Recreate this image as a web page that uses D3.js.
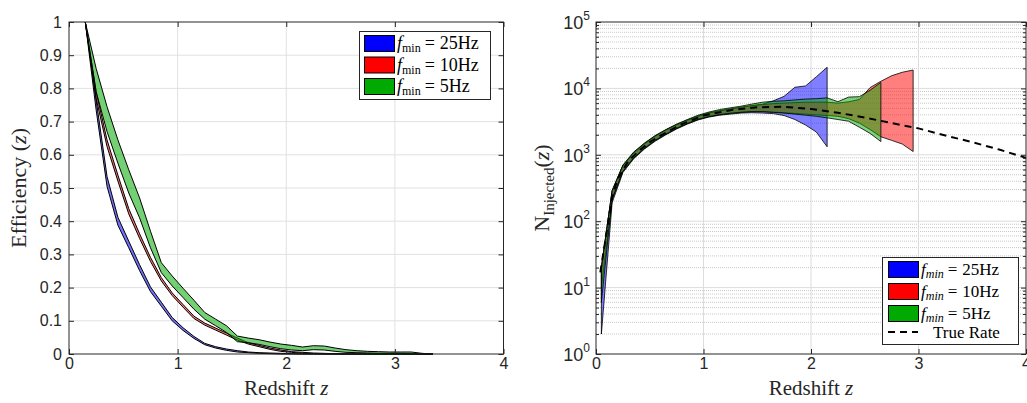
<!DOCTYPE html>
<html><head><meta charset="utf-8">
<script src="https://cdn.jsdelivr.net/npm/d3@7/dist/d3.min.js"></script>
<style>body{margin:0;background:#fff}svg{display:block}</style>
</head><body>
<script>
// ---------- DATA ----------
const xTicks = [0,1,2,3,4];
const effTicks = [0,0.1,0.2,0.3,0.4,0.5,0.6,0.7,0.8,0.9,1];
const effTickLabels = ["0","0.1","0.2","0.3","0.4","0.5","0.6","0.7","0.8","0.9","1"];
const logExps = [0,1,2,3,4,5];
const seriesNames = ["25Hz","10Hz","5Hz"];

// left panel: efficiency vs redshift
const zL = [0.15,0.25,0.35,0.45,0.55,0.65,0.75,0.85,0.95,1.05,1.15,1.25,1.35,1.45,1.55,1.65,1.75,1.85,1.95,2.05,2.15,2.25,2.35,2.45,2.55,2.65,2.75,2.85,2.95,3.05,3.15,3.25,3.35];
const effBlueLo = [1.0,0.735,0.505,0.388,0.32,0.251,0.188,0.144,0.100,0.071,0.047,0.028,0.018,0.011,0.006,0.004,0.002,0.001,0,0,0,0,0,0,0,0,0,0,0,0,0,0,0];
const effBlueHi = [1.0,0.765,0.535,0.412,0.34,0.269,0.202,0.156,0.110,0.079,0.053,0.032,0.022,0.015,0.010,0.006,0.004,0.003,0.002,0.001,0,0,0,0,0,0,0,0,0,0,0,0,0];
const effRedLo  = [1.0,0.77,0.625,0.521,0.422,0.348,0.279,0.220,0.176,0.141,0.107,0.087,0.072,0.057,0.042,0.030,0.022,0.014,0.008,0.005,0.002,0.001,0,0,0,0,0,0,0,0,0,0,0];
const effRedHi  = [1.0,0.79,0.645,0.539,0.438,0.362,0.291,0.230,0.184,0.149,0.114,0.093,0.078,0.063,0.048,0.034,0.026,0.018,0.012,0.007,0.005,0.003,0.002,0.001,0,0,0,0,0,0,0,0,0];
const effGreenLo = [1.0,0.79,0.67,0.575,0.485,0.41,0.32,0.245,0.205,0.17,0.135,0.105,0.085,0.065,0.037,0.034,0.029,0.022,0.016,0.012,0.010,0.013,0.012,0.008,0.005,0.004,0.003,0.002,0.002,0.002,0.001,0,0];
const effGreenHi = [1.0,0.86,0.745,0.645,0.555,0.47,0.37,0.275,0.235,0.198,0.162,0.125,0.105,0.085,0.054,0.048,0.043,0.036,0.030,0.026,0.021,0.025,0.024,0.018,0.013,0.010,0.008,0.007,0.006,0.006,0.006,0.002,0];

// right panel: injected number vs redshift
const zR = [0.05,0.15,0.25,0.35,0.45,0.55,0.65,0.75,0.85,0.95,1.05,1.15,1.25,1.35,1.45,1.55,1.65,1.75,1.85,1.95,2.05,2.15,2.25,2.35,2.45,2.55,2.65,2.75,2.85,2.95];
const nBlueLo = [2,190,540,870,1220,1600,2000,2450,2900,3350,3700,3950,4100,4250,4300,4250,4170,3900,3400,2800,2200,1320];
const nBlueHi = [20,290,690,1080,1480,1920,2380,2850,3350,3850,4250,4600,4900,5200,5500,5800,6500,7600,10400,10900,15000,20800];
const nRedLo = [10,210,570,900,1260,1660,2070,2520,2980,3450,3800,4050,4250,4400,4500,4500,4400,4300,4200,4100,4000,3900,3800,3500,3000,2400,1870,1650,1450,1120];
const nRedHi = [20,280,680,1060,1450,1900,2350,2820,3300,3800,4250,4600,4900,5200,5500,5700,5900,6000,6100,6200,6200,6200,6000,6300,6800,10300,12800,15500,17500,18900];
const nGreenLo = [6,220,560,890,1240,1640,2040,2490,2950,3400,3750,4000,4200,4350,4450,4450,4350,4250,4100,3950,3800,3600,3400,3200,2600,2100,1580];
const nGreenHi = [20,290,700,1100,1500,1950,2400,2900,3400,3950,4400,4800,5100,5400,5800,6200,6400,6500,6700,6900,7000,7200,6300,7400,7500,9400,12300];
const zTrue = [0.04,0.1,0.15,0.2,0.3,0.4,0.5,0.6,0.8,1.0,1.25,1.5,1.75,2.0,2.25,2.5,2.75,3.0,3.25,3.5,3.75,4.0];
const nTrue = [17,70,230,430,800,1150,1550,1950,2900,3900,4700,5200,5300,4900,4300,3650,3000,2500,1950,1550,1200,900];

// ---------- STYLE ----------
const colors = ["#0000ff","#ff0000","#00aa00"];
const frameColor = "#262626";
const sans = "'Liberation Sans', Arial, sans-serif";
const serif = "'Liberation Serif', 'Times New Roman', serif";

const W = 1027, H = 403;
const svg = d3.select("body").append("svg").attr("width", W).attr("height", H);

// ---------- LEFT PANEL ----------
const L = {x0:69, x1:503.5, y0:354, y1:22};
const xL = d3.scaleLinear().domain([0,4]).range([L.x0, L.x1]);
const yL = d3.scaleLinear().domain([0,1]).range([L.y0, L.y1]);
const gL = svg.append("g");

gL.append("g").selectAll("line").data(xTicks.slice(1,-1)).join("line")
  .attr("x1", d=>xL(d)).attr("x2", d=>xL(d)).attr("y1", L.y1).attr("y2", L.y0)
  .attr("stroke","#e1e1e1").attr("stroke-width",1);
gL.append("g").selectAll("line").data(effTicks.slice(1,-1)).join("line")
  .attr("y1", d=>yL(d)).attr("y2", d=>yL(d)).attr("x1", L.x0).attr("x2", L.x1)
  .attr("stroke","#e1e1e1").attr("stroke-width",1);

const effSets = [[effBlueLo,effBlueHi],[effRedLo,effRedHi],[effGreenLo,effGreenHi]];
const areaL = d3.area().x(d=>xL(d.z)).y0(d=>yL(d.lo)).y1(d=>yL(d.hi));
effSets.forEach((s,i)=>{
  const data = zL.map((z,k)=>({z, lo:s[0][k], hi:s[1][k]}));
  gL.append("path").attr("d", areaL(data))
    .attr("fill", colors[i]).attr("fill-opacity", 0.55)
    .attr("stroke","#000").attr("stroke-width",1).attr("stroke-linejoin","round");
});

function styleAxis(g){
  g.select(".domain").remove();
  g.selectAll(".tick line").attr("stroke", frameColor);
  g.selectAll(".tick text").attr("fill","#262626").attr("font-family", sans).attr("font-size", 16);
}
gL.append("g").attr("transform",`translate(0,${L.y0})`)
  .call(d3.axisBottom(xL).tickValues(xTicks).tickFormat(d3.format("d")).tickSizeInner(-5).tickSizeOuter(0).tickPadding(4))
  .call(styleAxis);
gL.append("g").attr("transform",`translate(0,${L.y1})`)
  .call(d3.axisTop(xL).tickValues(xTicks).tickFormat("").tickSizeInner(-5).tickSizeOuter(0))
  .call(styleAxis);
gL.append("g").attr("transform",`translate(${L.x0},0)`)
  .call(d3.axisLeft(yL).tickValues(effTicks).tickFormat((d,i)=>effTickLabels[i]).tickSizeInner(-5).tickSizeOuter(0).tickPadding(7))
  .call(styleAxis);
gL.append("g").attr("transform",`translate(${L.x1},0)`)
  .call(d3.axisRight(yL).tickValues(effTicks).tickFormat("").tickSizeInner(-5).tickSizeOuter(0))
  .call(styleAxis);
gL.append("rect").attr("x",L.x0).attr("y",L.y1).attr("width",L.x1-L.x0).attr("height",L.y0-L.y1)
  .attr("fill","none").attr("stroke",frameColor).attr("stroke-width",1);

const xlabL = gL.append("text").attr("x",(L.x0+L.x1)/2).attr("y",395).attr("text-anchor","middle")
  .attr("font-family",serif).attr("font-size",21).attr("fill","#262626");
xlabL.append("tspan").text("Redshift ");
xlabL.append("tspan").attr("font-style","italic").text("z");
const ylabL = gL.append("text").attr("transform",`translate(26,${(L.y0+L.y1)/2}) rotate(-90)`).attr("text-anchor","middle")
  .attr("font-family",serif).attr("font-size",22).attr("fill","#262626");
ylabL.append("tspan").text("Efficiency (");
ylabL.append("tspan").attr("font-style","italic").text("z");
ylabL.append("tspan").text(")");

const legL = gL.append("g");
legL.append("rect").attr("x",359.5).attr("y",31.5).attr("width",131).attr("height",68)
  .attr("fill","#fff").attr("stroke",frameColor).attr("stroke-width",1);
seriesNames.forEach((n,i)=>{
  const yy = 35 + i*21.5;
  legL.append("rect").attr("x",364.5).attr("y",yy+0.5).attr("width",30).attr("height",16)
    .attr("fill",colors[i]).attr("stroke","#000").attr("stroke-width",1);
  const t = legL.append("text").attr("x",397).attr("y",yy+14).attr("font-family",serif).attr("font-size",18).attr("fill","#000");
  t.append("tspan").attr("font-style","italic").text("f");
  t.append("tspan").attr("font-size",12).attr("dy",3).text("min");
  t.append("tspan").attr("dy",-3).attr("dx",4).text("=");
  t.append("tspan").attr("dx",5).text(n);
});

// ---------- RIGHT PANEL ----------
const R = {x0:596, x1:1026, y0:354, y1:22};
const xR = d3.scaleLinear().domain([0,4]).range([R.x0, R.x1]);
const yR = d3.scaleLog().domain([1,1e5]).range([R.y0, R.y1]);
const gR = svg.append("g");

const minorVals = [];
logExps.slice(0,-1).forEach(e=>{ for(let m=2;m<=9;m++) minorVals.push(m*Math.pow(10,e)); });
const majorVals = logExps.map(e=>Math.pow(10,e));

gR.append("g").selectAll("line").data(minorVals).join("line")
  .attr("y1", d=>yR(d)).attr("y2", d=>yR(d)).attr("x1", R.x0).attr("x2", R.x1)
  .attr("stroke","#c8c8c8").attr("stroke-width",1).attr("stroke-dasharray","1,1");
gR.append("g").selectAll("line").data(majorVals.slice(1,-1)).join("line")
  .attr("y1", d=>yR(d)).attr("y2", d=>yR(d)).attr("x1", R.x0).attr("x2", R.x1)
  .attr("stroke","#dcdcdc").attr("stroke-width",1);
gR.append("g").selectAll("line").data(xTicks.slice(1,-1)).join("line")
  .attr("x1", d=>xR(d)).attr("x2", d=>xR(d)).attr("y1", R.y1).attr("y2", R.y0)
  .attr("stroke","#dcdcdc").attr("stroke-width",1);

const nSets = [[nBlueLo,nBlueHi],[nRedLo,nRedHi],[nGreenLo,nGreenHi]];
const areaR = d3.area().x(d=>xR(d.z)).y0(d=>yR(d.lo)).y1(d=>yR(d.hi));
nSets.forEach((s,i)=>{
  const data = s[0].map((lo,k)=>({z:zR[k], lo, hi:s[1][k]}));
  gR.append("path").attr("d", areaR(data))
    .attr("fill", colors[i]).attr("fill-opacity", 0.5)
    .attr("stroke","#000").attr("stroke-width",0.8).attr("stroke-linejoin","round");
});
const lineR = d3.line().x(d=>xR(d.z)).y(d=>yR(d.n));
gR.append("path").attr("d", lineR(zTrue.map((z,k)=>({z, n:nTrue[k]}))))
  .attr("fill","none").attr("stroke","#000").attr("stroke-width",2).attr("stroke-dasharray","7,5");

gR.append("g").attr("transform",`translate(0,${R.y0})`)
  .call(d3.axisBottom(xR).tickValues(xTicks).tickFormat(d3.format("d")).tickSizeInner(-5).tickSizeOuter(0).tickPadding(4))
  .call(styleAxis);
gR.append("g").attr("transform",`translate(0,${R.y1})`)
  .call(d3.axisTop(xR).tickValues(xTicks).tickFormat("").tickSizeInner(-5).tickSizeOuter(0))
  .call(styleAxis);
gR.append("g").attr("transform",`translate(${R.x0},0)`)
  .call(d3.axisLeft(yR).tickValues(majorVals).tickFormat("").tickSizeInner(-5).tickSizeOuter(0))
  .call(styleAxis);
gR.append("g").attr("transform",`translate(${R.x0},0)`)
  .call(d3.axisLeft(yR).tickValues(minorVals).tickFormat("").tickSizeInner(-3).tickSizeOuter(0))
  .call(styleAxis);
gR.append("g").attr("transform",`translate(${R.x1},0)`)
  .call(d3.axisRight(yR).tickValues(majorVals).tickFormat("").tickSizeInner(-5).tickSizeOuter(0))
  .call(styleAxis);
gR.append("g").attr("transform",`translate(${R.x1},0)`)
  .call(d3.axisRight(yR).tickValues(minorVals).tickFormat("").tickSizeInner(-3).tickSizeOuter(0))
  .call(styleAxis);
logExps.forEach(e=>{
  const t = gR.append("text").attr("x", R.x0-6).attr("y", yR(Math.pow(10,e))+7)
    .attr("text-anchor","end").attr("font-family",sans).attr("font-size",18).attr("fill","#262626");
  t.append("tspan").text("10");
  t.append("tspan").attr("font-size",12).attr("dy",-9).text(String(e));
});
gR.append("rect").attr("x",R.x0).attr("y",R.y1).attr("width",R.x1-R.x0).attr("height",R.y0-R.y1)
  .attr("fill","none").attr("stroke",frameColor).attr("stroke-width",1);

const xlabR = gR.append("text").attr("x",(R.x0+R.x1)/2).attr("y",395).attr("text-anchor","middle")
  .attr("font-family",serif).attr("font-size",21).attr("fill","#262626");
xlabR.append("tspan").text("Redshift ");
xlabR.append("tspan").attr("font-style","italic").text("z");
const ylabR = gR.append("text").attr("transform",`translate(549,${(R.y0+R.y1)/2}) rotate(-90)`).attr("text-anchor","middle")
  .attr("font-family",serif).attr("font-size",22).attr("fill","#262626");
ylabR.append("tspan").text("N");
ylabR.append("tspan").attr("font-size",15).attr("dy",5).text("Injected");
ylabR.append("tspan").attr("dy",-5).text("(");
ylabR.append("tspan").attr("font-style","italic").text("z");
ylabR.append("tspan").text(")");

const legR = gR.append("g");
legR.append("rect").attr("x",882.5).attr("y",257.5).attr("width",136).attr("height",87)
  .attr("fill","#fff").attr("stroke",frameColor).attr("stroke-width",1);
seriesNames.forEach((n,i)=>{
  const yy = 261 + i*22;
  legR.append("rect").attr("x",888.5).attr("y",yy+0.5).attr("width",30).attr("height",16)
    .attr("fill",colors[i]).attr("stroke","#000").attr("stroke-width",1);
  const t = legR.append("text").attr("x",921).attr("y",yy+14).attr("font-family",serif).attr("font-size",17).attr("fill","#000");
  t.append("tspan").attr("font-style","italic").text("f");
  t.append("tspan").attr("font-size",12).attr("dy",3).attr("font-style","italic").text("min");
  t.append("tspan").attr("dy",-3).attr("dx",4).text("=");
  t.append("tspan").attr("dx",5).text(n);
});
legR.append("line").attr("x1",888).attr("x2",918).attr("y1",332).attr("y2",332)
  .attr("stroke","#000").attr("stroke-width",2).attr("stroke-dasharray","7,5");
legR.append("text").attr("x",933).attr("y",338).attr("font-family",serif).attr("font-size",17).attr("fill","#000").text("True Rate");
</script>
</body></html>
